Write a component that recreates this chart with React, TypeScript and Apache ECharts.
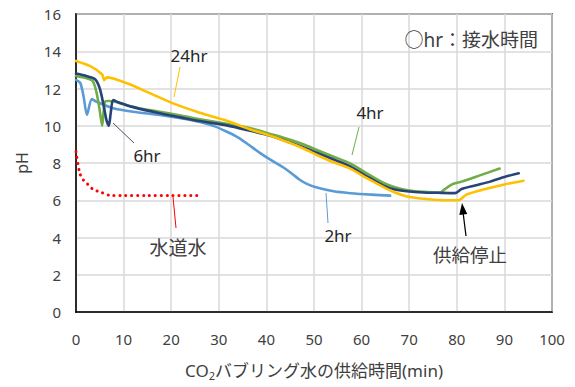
import React, { useEffect, useRef } from "react";
import * as echarts from "echarts";

// 2hr (light blue)
const t2 = [0, 0.9, 1.6, 2.3, 3.3, 4.2, 7.8, 12, 17.6, 22, 26, 29, 31.7, 34, 35.9, 38.7, 41, 43.5, 45.5, 47, 48.5, 50.6, 54.1, 57.6, 62, 66];
const ph2 = [12.46, 12.3, 11.56, 10.58, 11.44, 11.3, 10.94, 10.75, 10.58, 10.4, 10.2, 9.98, 9.68, 9.38, 9.05, 8.53, 8.15, 7.77, 7.4, 7.1, 6.88, 6.68, 6.48, 6.38, 6.3, 6.25];

// 4hr (green)
const t4 = [0, 2.2, 3.5, 4.3, 5.0, 5.5, 6.1, 7.0, 8.0, 10, 13, 17.6, 22, 26, 31.7, 36.6, 41, 45, 48, 50.6, 54, 57.6, 61, 64.5, 67, 70, 73, 76.5, 77.5, 79, 81, 85, 89];
const ph4 = [12.67, 12.55, 12.4, 11.8, 10.8, 10.0, 11.3, 11.33, 11.3, 11.15, 10.95, 10.75, 10.55, 10.35, 10.1, 9.87, 9.55, 9.25, 8.98, 8.7, 8.35, 7.98, 7.45, 6.94, 6.7, 6.52, 6.45, 6.42, 6.6, 6.85, 7.0, 7.35, 7.7];

// 6hr (dark blue)
const t6 = [0, 2.2, 4.0, 5.0, 5.8, 6.4, 6.9, 7.3, 7.8, 9, 12, 17.6, 22, 26, 31.7, 36.6, 41, 45, 48, 50.6, 54, 57.6, 61, 64.5, 67, 70, 73, 76, 79.6, 81, 84, 87, 90, 93];
const ph6 = [12.8, 12.67, 12.5, 12.0, 11.1, 10.3, 10.0, 10.7, 11.38, 11.25, 11.0, 10.67, 10.45, 10.25, 10.02, 9.73, 9.45, 9.1, 8.82, 8.55, 8.2, 7.82, 7.3, 6.8, 6.58, 6.47, 6.42, 6.4, 6.38, 6.6, 6.8, 7.0, 7.25, 7.45];

// 24hr (yellow)
const t24 = [0, 3, 5.5, 5.9, 6.5, 10.7, 15.5, 20.4, 26, 31.7, 36.6, 41, 45, 48, 50.6, 54, 57.6, 61, 64.5, 67, 70.2, 75, 80.3, 82, 86, 90, 94];
const ph24 = [13.48, 13.2, 12.75, 12.45, 12.6, 12.28, 11.75, 11.2, 10.7, 10.27, 9.8, 9.45, 9.07, 8.75, 8.43, 8.05, 7.7, 7.2, 6.72, 6.42, 6.17, 6.03, 6.0, 6.3, 6.6, 6.85, 7.05];

// tap water (red dotted)
const tTap = [0, 0.8, 1.5, 2.3, 3.5, 5, 7.5, 10, 15, 20, 25.6];
const phTap = [8.6, 7.45, 7.1, 6.9, 6.6, 6.45, 6.25, 6.25, 6.25, 6.25, 6.25];

const zip = (xs: number[], ys: number[]) => xs.map((x, i) => [x, ys[i]]);

const FONT = "'Noto Sans', 'Noto Sans CJK JP', sans-serif";

export default function App() {
  const ref = useRef<HTMLDivElement>(null);
  useEffect(() => {
    document.body.style.margin = "0";
    if (!ref.current) return;
    const chart = echarts.init(ref.current, null, { renderer: "svg" });
    const lineSeries = (name: string, data: number[][], color: string) => ({
      name,
      type: "line",
      data,
      showSymbol: false,
      symbol: "none",
      smooth: 0.25,
      lineStyle: { color, width: 2.6, cap: "round", join: "round" },
      itemStyle: { color },
      z: 3,
    });
    const txt = (text: string, x: number, y: number, size: number, color: string, align = "center") => ({
      type: "text",
      x,
      y,
      z: 100,
      style: { text, fontSize: size, fontFamily: FONT, fill: color, align, verticalAlign: "middle" },
    });
    const ln = (x1: number, y1: number, x2: number, y2: number, color: string, w = 1) => ({
      type: "line",
      z: 100,
      shape: { x1, y1, x2, y2 },
      style: { stroke: color, lineWidth: w },
    });
    chart.setOption({
      animation: false,
      textStyle: { fontFamily: FONT },
      grid: {
        left: 76,
        right: 23,
        top: 14,
        bottom: 75,
        show: true,
        borderColor: "#000",
        borderWidth: 1.5,
        backgroundColor: "transparent",
      },
      xAxis: {
        type: "value",
        min: 0,
        max: 100,
        interval: 10,
        axisLine: { show: true, lineStyle: { color: "#000", width: 1.5 } },
        axisTick: { show: false },
        axisLabel: { fontSize: 15, color: "#404040", margin: 19, fontFamily: FONT },
        splitLine: { show: true, lineStyle: { color: "#D9D9D9", width: 1.5 } },
        name: "{n|CO}{s|2}{n|バブリング水の供給時間(min)}",
        nameLocation: "middle",
        nameGap: 47,
        nameTextStyle: {
          rich: {
            n: { fontSize: 17, color: "#404040", fontFamily: FONT, lineHeight: 22, verticalAlign: "middle" },
            s: { fontSize: 11, color: "#404040", fontFamily: FONT, lineHeight: 12, verticalAlign: "bottom" },
          },
        },
      },
      yAxis: {
        type: "value",
        min: 0,
        max: 16,
        interval: 2,
        axisLine: { show: true, lineStyle: { color: "#000", width: 1.5 } },
        axisTick: { show: false },
        axisLabel: { fontSize: 15, color: "#404040", margin: 15, fontFamily: FONT },
        splitLine: { show: true, lineStyle: { color: "#D9D9D9", width: 1.5 } },
        name: "pH",
        nameLocation: "middle",
        nameRotate: 90,
        nameGap: 46,
        nameTextStyle: { fontSize: 16, color: "#404040", fontFamily: FONT },
      },
      series: [
        lineSeries("2hr", zip(t2, ph2), "#5B9BD5"),
        lineSeries("4hr", zip(t4, ph4), "#70AD47"),
        lineSeries("6hr", zip(t6, ph6), "#264478"),
        lineSeries("24hr", zip(t24, ph24), "#FFC000"),
        {
          name: "水道水",
          type: "line",
          data: zip(tTap, phTap),
          showSymbol: false,
          symbol: "none",
          smooth: 0.3,
          lineStyle: { color: "#FF0000", width: 3, type: [0.1, 5.8], cap: "round" },
          z: 3,
        },
      ],
      graphic: [
        txt("○hr：接水時間", 538, 40, 19, "#404040", "right"),
        txt("24hr", 189, 55, 17, "#262626"),
        ln(180, 67, 174, 97, "#FFC000"),
        txt("6hr", 147, 155, 17, "#262626"),
        ln(113, 123, 134, 143, "#44546A"),
        txt("水道水", 178, 248, 19, "#404040"),
        ln(173, 197, 176, 228, "#FF0000"),
        txt("4hr", 370, 112, 17, "#262626"),
        ln(359, 127, 352, 155, "#70AD47"),
        txt("2hr", 338, 235, 17, "#262626"),
        ln(326, 193, 328, 223, "#5B9BD5"),
        txt("供給停止", 470, 254, 18.5, "#404040"),
        ln(466, 236, 463, 212, "#000", 1.3),
        {
          type: "polygon",
          z: 100,
          shape: { points: [[462, 203], [467.3, 214], [459.3, 215]] },
          style: { fill: "#000" },
        },
      ],
    });
    return () => chart.dispose();
  }, []);
  return <div ref={ref} style={{ width: 575, height: 387 }} />;
}
